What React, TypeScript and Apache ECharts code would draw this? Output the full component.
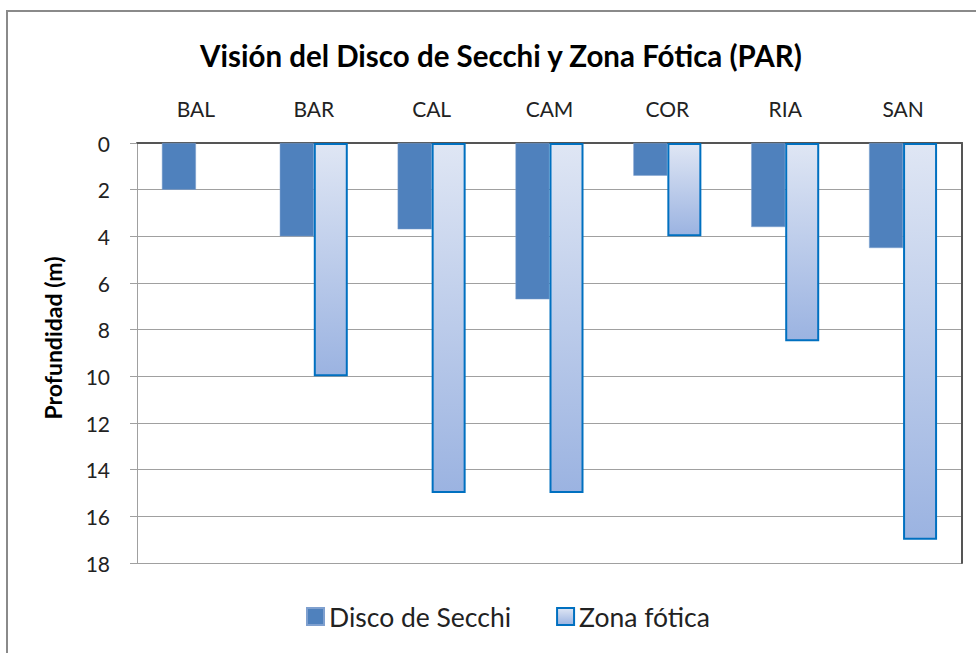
import React, { useEffect, useRef } from "react";
import * as echarts from "echarts";

const categories = ["BAL", "BAR", "CAL", "CAM", "COR", "RIA", "SAN"];
const secchi = [2, 4, 3.7, 6.7, 1.4, 3.6, 4.5];
const zonaFotica: (number | null)[] = [null, 10, 15, 15, 4, 8.5, 17];
const seriesNames = ["Disco de Secchi", "Zona fótica"];
const titleText = "Visión del Disco de Secchi y Zona Fótica (PAR)";
const yAxisName = "Profundidad (m)";

const FONT = "Lato, 'Noto Sans', sans-serif";

export default function App() {
  const ref = useRef<HTMLDivElement>(null);
  useEffect(() => {
    if (!ref.current) return;
    const chart = echarts.init(ref.current, undefined, { renderer: "svg" });
    const zonaGradient = new echarts.graphic.LinearGradient(0, 0, 0, 1, [
      { offset: 0, color: "#dfe6f4" },
      { offset: 1, color: "#9bb3e1" },
    ]);
    chart.setOption({
      animation: false,
      backgroundColor: "#ffffff",
      textStyle: { fontFamily: FONT },
      graphic: [
        {
          type: "rect",
          shape: { x: 7, y: 11, width: 1000, height: 700 },
          style: { fill: "none", stroke: "#8a8a8a", lineWidth: 2 },
          z: 100,
        },
        {
          type: "text",
          x: 53,
          y: 338,
          rotation: Math.PI / 2,
          style: {
            text: yAxisName,
            fontFamily: FONT,
            fontSize: 23,
            fontWeight: "bold",
            fill: "#000",
            align: "center",
            verticalAlign: "middle",
          },
        },
      ],
      title: {
        text: titleText,
        left: 195,
        top: 35,
        textStyle: { fontFamily: FONT, fontSize: 29.5, fontWeight: "bold", color: "#000" },
      },
      legend: {
        bottom: 18,
        left: 301,
        itemWidth: 17,
        itemHeight: 17,
        itemGap: 45,
        icon: "rect",
        textStyle: { fontFamily: FONT, fontSize: 26.5, color: "#222" },
        data: seriesNames,
      },
      grid: { left: 137, right: 14, top: 143, bottom: 90 },
      xAxis: [
        {
          type: "category",
          position: "top",
          data: categories,
          axisLine: { show: true, lineStyle: { color: "#a0a0a0", width: 1 } },
          axisTick: { show: false },
          axisLabel: { fontFamily: FONT, fontSize: 21, color: "#222", margin: 24 },
        },
        {
          type: "category",
          position: "bottom",
          data: categories,
          axisLine: { show: true, lineStyle: { color: "#555", width: 2 } },
          axisTick: { show: false },
          axisLabel: { show: false },
        },
      ],
      yAxis: [
        {
          type: "value",
          inverse: true,
          min: 0,
          max: 18,
          interval: 2,
          axisLine: { show: true, lineStyle: { color: "#a0a0a0", width: 1 } },
          axisTick: { show: true, length: 7, lineStyle: { color: "#a0a0a0" } },
          axisLabel: { fontFamily: FONT, fontSize: 21, color: "#222", margin: 27 },
          splitLine: { show: true, lineStyle: { color: "#a0a0a0", width: 1 } },
        },
        {
          type: "value",
          inverse: true,
          position: "right",
          min: 0,
          max: 18,
          interval: 2,
          axisLine: { show: true, lineStyle: { color: "#555", width: 2 } },
          axisTick: { show: false },
          axisLabel: { show: false },
          splitLine: { show: false },
        },
      ],
      series: [
        {
          name: seriesNames[0],
          type: "bar",
          data: secchi,
          barWidth: 34,
          barGap: "0%",
          itemStyle: { color: "#4f81bd", borderColor: "#7fa0cf", borderWidth: 0.5 },
        },
        {
          name: seriesNames[1],
          type: "bar",
          data: zonaFotica,
          barWidth: 34,
          barGap: "0%",
          itemStyle: { color: zonaGradient, borderColor: "#0070c0", borderWidth: 2 },
        },
      ],
    });
    return () => chart.dispose();
  }, []);
  return (
    <div
      ref={ref}
      style={{ position: "fixed", left: 0, top: 0, width: 976, height: 653 }}
    />
  );
}
